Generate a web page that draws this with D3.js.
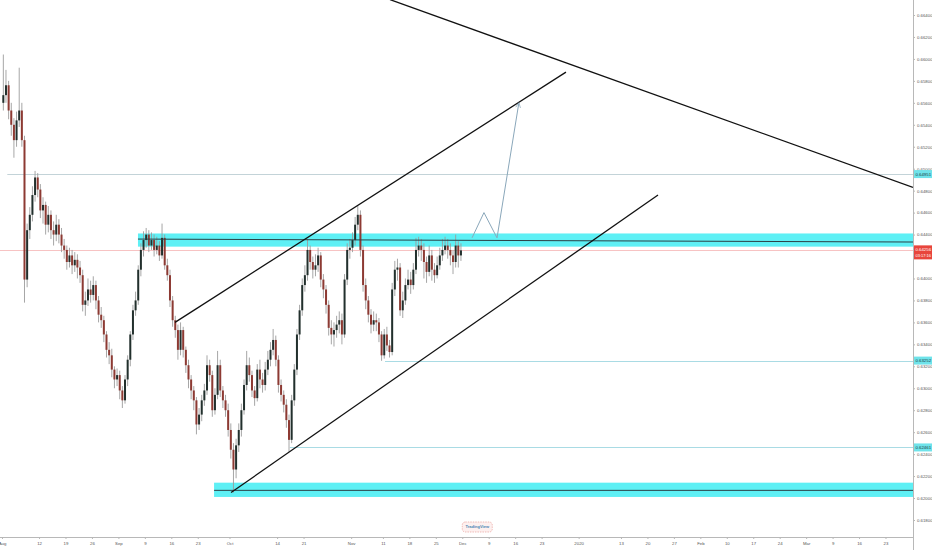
<!DOCTYPE html>
<html>
<head>
<meta charset="utf-8">
<script src="https://cdn.jsdelivr.net/npm/d3@7"></script>
<style>
  html, body { margin: 0; padding: 0; background: #fff; }
  svg { display: block; font-family: "Liberation Sans", Arial, sans-serif; }
</style>
</head>
<body>
<div id="chart"></div>
<script>
// 12h candles, weekdays only, starting Aug 1 2019
var startDate = '2019-08-01 00:00';
var candleDays = 0.5;
var firstOpen = 0.6560;

var closes = [
  0.6567, 0.6576, 0.6553, 0.6540, 0.6526, 0.6544, 0.6553, 0.6526, 0.6399, 0.6444,
  0.6458, 0.6476, 0.6492, 0.6481, 0.6462, 0.6467, 0.6449, 0.6458, 0.6444, 0.6440,
  0.6449, 0.6440, 0.6430, 0.6426, 0.6415, 0.6421, 0.6412, 0.6417, 0.6410, 0.6403,
  0.6376, 0.6380, 0.6390, 0.6385, 0.6394, 0.6380, 0.6367, 0.6362, 0.6349, 0.6335,
  0.6330, 0.6317, 0.6308, 0.6312, 0.6298, 0.6289, 0.6308, 0.6326, 0.6349, 0.6371,
  0.6380, 0.6408, 0.6426, 0.6435, 0.6440, 0.6430, 0.6435, 0.6426, 0.6430, 0.6421,
  0.6437, 0.6412, 0.6403, 0.6380, 0.6362, 0.6353, 0.6335, 0.6353, 0.6335, 0.6321,
  0.6308, 0.6298, 0.6289, 0.6267, 0.6276, 0.6289, 0.6298, 0.6321, 0.6312, 0.6280,
  0.6294, 0.6321, 0.6298, 0.6289, 0.6280, 0.6262, 0.6244, 0.6226, 0.6248, 0.6262,
  0.6280, 0.6303, 0.6321, 0.6312, 0.6298, 0.6291, 0.6317, 0.6308, 0.6303, 0.6317,
  0.6326, 0.6335, 0.6344, 0.6326, 0.6303, 0.6294, 0.6285, 0.6271, 0.6253, 0.6289,
  0.6317, 0.6349, 0.6371, 0.6394, 0.6403, 0.6426, 0.6415, 0.6408, 0.6412, 0.6421,
  0.6399, 0.6390, 0.6376, 0.6355, 0.6349, 0.6353, 0.6358, 0.6362, 0.6349, 0.6399,
  0.6426, 0.6428, 0.6435, 0.6449, 0.6458, 0.6426, 0.6394, 0.6380, 0.6367, 0.6358,
  0.6362, 0.6360, 0.6349, 0.6330, 0.6349, 0.6339, 0.6333, 0.6390, 0.6408, 0.6410,
  0.6371, 0.6380, 0.6394, 0.6399, 0.6394, 0.6408, 0.6426, 0.6430, 0.6426, 0.6415,
  0.6406, 0.6421, 0.6408, 0.6403, 0.6412, 0.6421, 0.6426, 0.6430, 0.6426, 0.6421,
  0.6415, 0.6430, 0.6421, 0.64256
];
var highs = [
  0.6604, 0.6590, 0.6580, 0.6560, 0.6546, 0.6552, 0.6592, 0.6560, 0.6530, 0.6450,
  0.6465, 0.6484, 0.6498, 0.6496, 0.6486, 0.6474, 0.6470, 0.6466, 0.6462, 0.6452,
  0.6458, 0.6454, 0.6446, 0.6436, 0.6430, 0.6428, 0.6426, 0.6424, 0.6422, 0.6416,
  0.6408, 0.6388, 0.6400, 0.6398, 0.6402, 0.6398, 0.6384, 0.6374, 0.6366, 0.6352,
  0.6342, 0.6336, 0.6320, 0.6318, 0.6316, 0.6302, 0.6312, 0.6330, 0.6352, 0.6376,
  0.6388, 0.6412, 0.6432, 0.6443, 0.6446, 0.6444, 0.6442, 0.6440, 0.6438, 0.6434,
  0.6450, 0.6440, 0.6418, 0.6408, 0.6384, 0.6366, 0.6358, 0.6360, 0.6356, 0.6338,
  0.6326, 0.6312, 0.6302, 0.6292, 0.6282, 0.6294, 0.6304, 0.6330, 0.6326, 0.6316,
  0.6300, 0.6334, 0.6326, 0.6302, 0.6294, 0.6286, 0.6268, 0.6250, 0.6254, 0.6268,
  0.6286, 0.6308, 0.6334, 0.6328, 0.6316, 0.6302, 0.6322, 0.6326, 0.6314, 0.6324,
  0.6334, 0.6342, 0.6354, 0.6348, 0.6330, 0.6308, 0.6298, 0.6290, 0.6276, 0.6294,
  0.6322, 0.6354, 0.6376, 0.6400, 0.6412, 0.6436, 0.6430, 0.6420, 0.6422, 0.6428,
  0.6424, 0.6404, 0.6394, 0.6380, 0.6362, 0.6360, 0.6366, 0.6370, 0.6368, 0.6404,
  0.6432, 0.6436, 0.6442, 0.6456, 0.6466, 0.6462, 0.6430, 0.6400, 0.6384, 0.6372,
  0.6370, 0.6368, 0.6364, 0.6352, 0.6354, 0.6356, 0.6344, 0.6396, 0.6416, 0.6418,
  0.6414, 0.6388, 0.6400, 0.6408, 0.6406, 0.6414, 0.6437, 0.6438, 0.6436, 0.6432,
  0.6420, 0.6430, 0.6426, 0.6414, 0.6420, 0.6428, 0.6436, 0.6438, 0.6436, 0.6432,
  0.6426, 0.6440, 0.6434, 0.6432
];
var lows = [
  0.6553, 0.6560, 0.6545, 0.6530, 0.6510, 0.6520, 0.6538, 0.6520, 0.6378, 0.6392,
  0.6436, 0.6452, 0.6470, 0.6474, 0.6455, 0.6450, 0.6440, 0.6442, 0.6436, 0.6430,
  0.6434, 0.6432, 0.6424, 0.6418, 0.6408, 0.6410, 0.6404, 0.6406, 0.6400, 0.6396,
  0.6370, 0.6366, 0.6375, 0.6378, 0.6380, 0.6372, 0.6360, 0.6355, 0.6342, 0.6328,
  0.6322, 0.6310, 0.6300, 0.6302, 0.6290, 0.6282, 0.6286, 0.6302, 0.6320, 0.6344,
  0.6366, 0.6376, 0.6402, 0.6420, 0.6428, 0.6424, 0.6426, 0.6420, 0.6422, 0.6416,
  0.6418, 0.6408, 0.6398, 0.6374, 0.6356, 0.6346, 0.6326, 0.6330, 0.6328, 0.6314,
  0.6300, 0.6290, 0.6280, 0.6258, 0.6262, 0.6270, 0.6284, 0.6294, 0.6306, 0.6274,
  0.6276, 0.6290, 0.6292, 0.6282, 0.6274, 0.6256, 0.6236, 0.6205, 0.6218, 0.6242,
  0.6256, 0.6276, 0.6298, 0.6306, 0.6292, 0.6284, 0.6288, 0.6300, 0.6296, 0.6298,
  0.6312, 0.6320, 0.6330, 0.6320, 0.6296, 0.6288, 0.6278, 0.6264, 0.6242, 0.6250,
  0.6284, 0.6312, 0.6344, 0.6366, 0.6388, 0.6398, 0.6408, 0.6400, 0.6402, 0.6406,
  0.6392, 0.6382, 0.6368, 0.6348, 0.6340, 0.6338, 0.6346, 0.6350, 0.6340, 0.6346,
  0.6394, 0.6418, 0.6424, 0.6430, 0.6444, 0.6420, 0.6388, 0.6372, 0.6360, 0.6350,
  0.6352, 0.6352, 0.6342, 0.6325, 0.6327, 0.6334, 0.6328, 0.6330, 0.6384, 0.6398,
  0.6366, 0.6364, 0.6376, 0.6390, 0.6386, 0.6390, 0.6404, 0.6420, 0.6416, 0.6400,
  0.6396, 0.6402, 0.6398, 0.6396, 0.6400, 0.6408, 0.6416, 0.6422, 0.6418, 0.6412,
  0.6404, 0.6410, 0.6410, 0.6416
];

var timeTickDates = ['2019-08-01', '2019-08-12', '2019-08-19', '2019-08-26', '2019-09-02', '2019-09-09',
  '2019-09-16', '2019-09-23', '2019-10-01', '2019-10-14', '2019-10-21', '2019-11-01', '2019-11-11',
  '2019-11-18', '2019-11-25', '2019-12-02', '2019-12-09', '2019-12-16', '2019-12-23', '2020-01-01',
  '2020-01-13', '2020-01-20', '2020-01-27', '2020-02-03', '2020-02-10', '2020-02-17', '2020-02-24',
  '2020-03-02', '2020-03-09', '2020-03-16', '2020-03-23'];
var timeTickLabels = ['Aug', '12', '19', '26', 'Sep', '9', '16', '23', 'Oct', '14', '21', 'Nov', '11',
  '18', '25', 'Dec', '9', '16', '23', '2020', '13', '20', '27', 'Feb', '10', '17', '24', 'Mar', '9', '16', '23'];
var priceTicks = [0.618, 0.620, 0.622, 0.624, 0.626, 0.628, 0.630, 0.632, 0.634, 0.636, 0.638, 0.640,
  0.642, 0.644, 0.646, 0.648, 0.650, 0.652, 0.654, 0.656, 0.658, 0.660, 0.662, 0.664];

// horizontal levels
var levelPrices = [0.64951, 0.63252, 0.62461];
var levelStarts = ['2019-08-02 00:00', '2019-11-11 09:36', '2019-10-16 09:36'];
var levelColors = ['#c3d3d8', '#a9dbe4', '#a9dbe4'];
var lastPrice = 0.64256;
var countdown = '03:17:16';

// supply/demand zones
var zoneStarts = ['2019-09-05 16:48', '2019-09-26 02:00'];
var zoneTops = [0.6441, 0.6214];
var zoneBottoms = [0.6429, 0.6201];
var zoneLines = [
  [['2019-09-05 16:48', 0.64359], ['2020-03-30 04:48', 0.64332]],
  [['2019-09-26 02:00', 0.6207], ['2020-03-30 04:48', 0.6207]]
];

// trend lines
var trendLines = [
  [['2019-09-16 16:48', 0.6360], ['2019-12-27 14:24', 0.6588]],
  [['2019-10-01 07:12', 0.6205], ['2020-01-22 00:00', 0.6476]],
  [['2019-11-12 08:24', 0.6654], ['2020-03-30 04:48', 0.6483]]
];
var projection = [['2019-12-03 20:24', 0.6437], ['2019-12-06 02:24', 0.6460],
  ['2019-12-10 13:40', 0.6437], ['2019-12-16 16:48', 0.6560]];

var W = 932, H = 550;
var plotRight = 913, plotBottom = 537;

var parseFull = d3.timeParse('%Y-%m-%d %H:%M');
var parseDay = d3.timeParse('%Y-%m-%d');
function parse(s) { return parseFull(s) || parseDay(s); }
var t0 = parse(startDate);

// position on a weekday-only time line (days since start)
function tIndex(s) {
  var d = parse(s);
  var day = d3.timeDay.floor(d);
  var n = d3.timeDay.range(t0, day).filter(function(x) {
    var w = x.getDay();
    return w !== 0 && w !== 6;
  }).length;
  return n + (d - day) / 864e5;
}

var x = d3.scaleLinear().domain([-0.38, 172.2]).range([0, plotRight]);
var y = d3.scaleLinear().domain([0.618, 0.664]).range([520, 15]);

var svg = d3.select('#chart').append('svg').attr('width', W).attr('height', H);
var defs = svg.append('defs');

defs.append('clipPath').attr('id', 'plot')
  .append('rect').attr('x', 0).attr('y', 0).attr('width', plotRight).attr('height', plotBottom);

var plot = svg.append('g').attr('clip-path', 'url(#plot)');

// zones
zoneStarts.forEach(function(s, i) {
  plot.append('rect')
    .attr('x', x(tIndex(s)))
    .attr('y', y(zoneTops[i]))
    .attr('width', plotRight - x(tIndex(s)))
    .attr('height', y(zoneBottoms[i]) - y(zoneTops[i]))
    .attr('fill', '#5ef0f5');
});

// levels
levelPrices.forEach(function(p, i) {
  plot.append('line')
    .attr('x1', x(tIndex(levelStarts[i]))).attr('x2', plotRight)
    .attr('y1', Math.round(y(p)) + 0.5).attr('y2', Math.round(y(p)) + 0.5)
    .attr('stroke', levelColors[i]).attr('stroke-width', 1);
});
plot.append('line')
  .attr('x1', 0).attr('x2', plotRight)
  .attr('y1', Math.round(y(lastPrice)) + 0.5).attr('y2', Math.round(y(lastPrice)) + 0.5)
  .attr('stroke', '#f7c3c3').attr('stroke-width', 1);

// candles
var candles = closes.map(function(c, i) {
  return {
    t: i * candleDays + candleDays / 2,
    o: i === 0 ? firstOpen : closes[i - 1],
    h: highs[i], l: lows[i], c: c
  };
});
var bodyW = 2;
var cg = plot.append('g');
cg.selectAll('line.wick').data(candles).join('line')
  .attr('class', 'wick')
  .attr('x1', function(d) { return x(d.t); })
  .attr('x2', function(d) { return x(d.t); })
  .attr('y1', function(d) { return y(d.h); })
  .attr('y2', function(d) { return y(d.l); })
  .attr('stroke', '#9c9c9c').attr('stroke-width', 0.9);
cg.selectAll('rect.body').data(candles).join('rect')
  .attr('class', 'body')
  .attr('x', function(d) { return x(d.t) - bodyW / 2; })
  .attr('width', bodyW)
  .attr('y', function(d) { return y(Math.max(d.o, d.c)); })
  .attr('height', function(d) { return Math.max(0.8, Math.abs(y(d.o) - y(d.c))); })
  .attr('fill', function(d) { return d.c >= d.o ? '#22302d' : '#8d3a33'; });

// drawings
var line = d3.line()
  .x(function(d) { return x(tIndex(d[0])); })
  .y(function(d) { return y(d[1]); });

zoneLines.forEach(function(l) {
  plot.append('path').attr('d', line(l))
    .attr('fill', 'none').attr('stroke', '#2b4146').attr('stroke-width', 1);
});
trendLines.forEach(function(l) {
  plot.append('path').attr('d', line(l))
    .attr('fill', 'none').attr('stroke', '#111').attr('stroke-width', 1.3);
});

defs.append('marker')
  .attr('id', 'arrow').attr('viewBox', '0 0 10 10')
  .attr('refX', 9).attr('refY', 5)
  .attr('markerWidth', 6).attr('markerHeight', 6)
  .attr('orient', 'auto-start-reverse')
  .append('path').attr('d', 'M1,1 L9,5 L1,9').attr('fill', 'none')
  .attr('stroke', '#8aa7ba').attr('stroke-width', 1.2);
plot.append('path').attr('d', line(projection))
  .attr('fill', 'none').attr('stroke', '#8aa7ba').attr('stroke-width', 1)
  .attr('marker-end', 'url(#arrow)');

// small watermark badge above the time scale
var badge = svg.append('g').attr('transform', 'translate(' + x(tIndex('2019-12-02')) + ',522)');
badge.append('rect').attr('x', 0).attr('y', 0).attr('width', 30).attr('height', 10).attr('rx', 3)
  .attr('fill', '#fdf0ef').attr('stroke', '#e9a29c').attr('stroke-width', 0.7)
  .attr('stroke-dasharray', '1.5,1');
badge.append('text').attr('x', 15).attr('y', 6.3).attr('text-anchor', 'middle')
  .attr('fill', '#4b86b4').style('font-size', '4px').style('font-weight', 'bold').text('TradingView');

// axes
var xAxis = d3.axisBottom(x)
  .tickValues(timeTickDates.map(tIndex))
  .tickFormat(function(d, i) { return timeTickLabels[i]; })
  .tickSize(2).tickSizeOuter(0);
var gx = svg.append('g').attr('transform', 'translate(0,' + plotBottom + ')').call(xAxis);
gx.select('.domain').attr('stroke', '#b8b8b8').attr('d', 'M0,0.5H' + plotRight);
gx.selectAll('.tick line').attr('stroke', '#b8b8b8');
gx.selectAll('.tick text').attr('y', 5).attr('fill', '#555')
  .style('font-size', '4.3px').style('font-family', '"Liberation Sans", Arial, sans-serif');

var yAxis = d3.axisRight(y)
  .tickValues(priceTicks)
  .tickFormat(d3.format('.5f'))
  .tickSize(2).tickSizeOuter(0);
var gy = svg.append('g').attr('transform', 'translate(' + plotRight + ',0)').call(yAxis);
gy.select('.domain').attr('stroke', '#b8b8b8').attr('d', 'M0.5,0V' + H);
gy.selectAll('.tick line').attr('stroke', '#b8b8b8');
gy.selectAll('.tick text').attr('x', 4).attr('fill', '#555')
  .style('font-size', '4.3px').style('font-family', '"Liberation Sans", Arial, sans-serif');

// price labels on the scale
levelPrices.forEach(function(p) {
  var yy = y(p);
  svg.append('rect').attr('x', plotRight + 1).attr('y', yy - 4)
    .attr('width', W - plotRight - 1).attr('height', 8).attr('fill', '#6fe3ea');
  svg.append('text').attr('x', plotRight + 2.5).attr('y', yy + 1.5)
    .attr('fill', '#1b3b40').style('font-size', '4.3px').text(d3.format('.5f')(p));
});
var ly = y(lastPrice);
svg.append('rect').attr('x', plotRight + 1).attr('y', ly - 5)
  .attr('width', W - plotRight - 1).attr('height', 14).attr('fill', '#e8453c');
svg.append('text').attr('x', plotRight + 2.5).attr('y', ly + 1)
  .attr('fill', '#fff').style('font-size', '4.3px').text(d3.format('.5f')(lastPrice));
svg.append('text').attr('x', plotRight + 2.5).attr('y', ly + 6.5)
  .attr('fill', '#fff').style('font-size', '4px').text(countdown);
</script>
</body>
</html>
